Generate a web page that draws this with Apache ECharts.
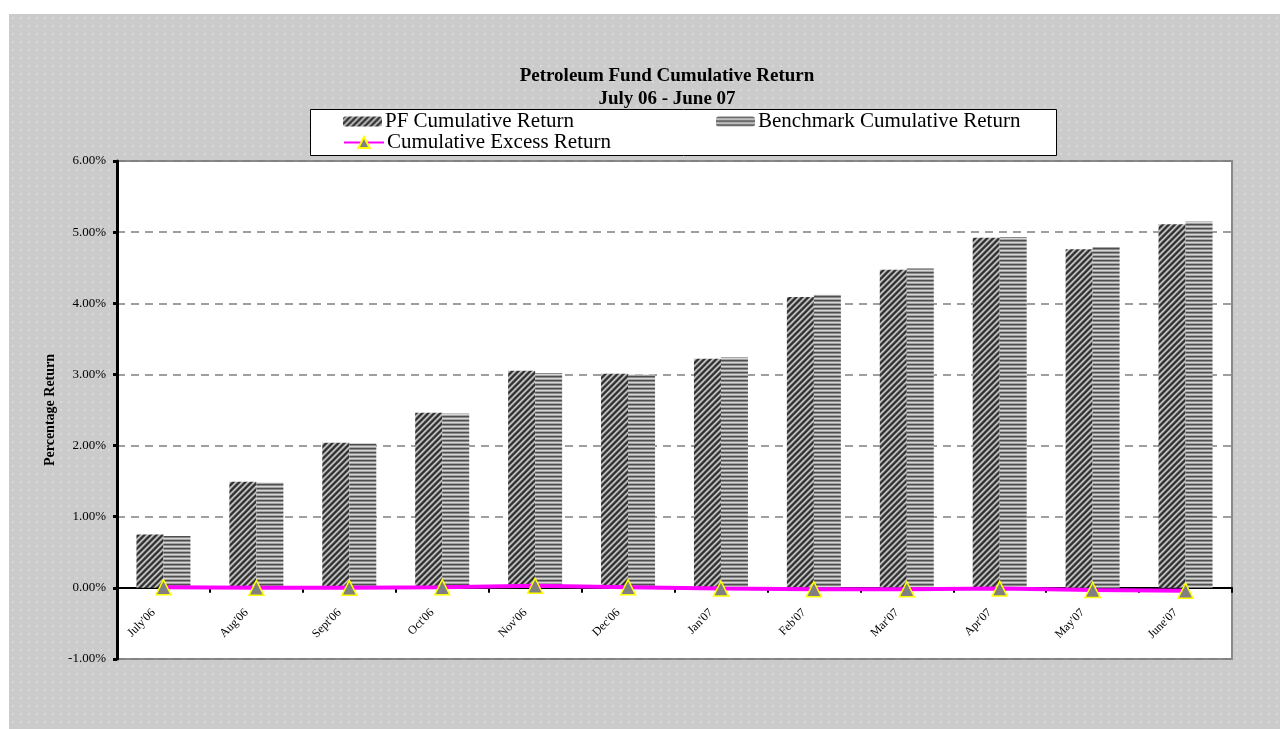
<!DOCTYPE html>
<html>
<head>
<meta charset="utf-8">
<script src="https://cdn.jsdelivr.net/npm/echarts@6/dist/echarts.min.js"></script>
<style>
html,body{margin:0;padding:0;background:#fff;}
#bg{position:absolute;left:9px;top:14px;width:1271px;height:715px;background-color:#cbcbcb;
background-image:radial-gradient(circle, rgba(255,255,255,0.25) 1px, transparent 1.5px);background-size:8px 8px;}
#chart{position:absolute;left:0;top:0;width:1280px;height:729px;}
</style>
</head>
<body>
<div id="bg"></div>
<div id="chart"></div>
<script>
const categories = ["July'06","Aug'06","Sept'06","Oct'06","Nov'06","Dec'06","Jan'07","Feb'07","Mar'07","Apr'07","May'07","June'07"];
const pfReturn = [0.75, 1.49, 2.04, 2.46, 3.05, 3.01, 3.22, 4.09, 4.47, 4.92, 4.76, 5.11];
const benchReturn = [0.73, 1.48, 2.03, 2.45, 3.02, 3.00, 3.24, 4.12, 4.49, 4.93, 4.79, 5.15];
const excessReturn = [0.01, 0.00, 0.00, 0.01, 0.03, 0.01, -0.01, -0.02, -0.02, -0.01, -0.03, -0.04];
const yTicks = [-1, 0, 1, 2, 3, 4, 5, 6];

function makeDiag(){
  const n = 6;
  const c = document.createElement('canvas'); c.width = n; c.height = n;
  const ctx = c.getContext('2d');
  const cols = ['#2e2e2e', '#333333', '#6a6a6a', '#c4c4c4', '#b4b4b4', '#666666'];
  for (let x = 0; x < n; x++) for (let y = 0; y < n; y++) {
    ctx.fillStyle = cols[(x + y) % n];
    ctx.fillRect(x, y, 1, 1);
  }
  return c;
}
function makeHoriz(){
  const c = document.createElement('canvas'); c.width = 4; c.height = 4;
  const ctx = c.getContext('2d');
  const cols = ['#4e4e4e', '#8a8a8a', '#d6d6d6', '#a4a4a4'];
  for (let y = 0; y < 4; y++) { ctx.fillStyle = cols[y]; ctx.fillRect(0, y, 4, 1); }
  return c;
}
const serif = '"Liberation Serif", "DejaVu Serif", serif';
const chart = echarts.init(document.getElementById('chart'), null, {renderer: 'canvas'});
const pfColor = {image: makeDiag(), repeat: 'repeat'};
const bmColor = {image: makeHoriz(), repeat: 'repeat'};

chart.setOption({
  backgroundColor: 'transparent',
  animation: false,
  title: [
    {text: 'Petroleum Fund Cumulative Return', left: 662, top: 62, textAlign: 'center',
     textStyle: {fontFamily: serif, fontSize: 19, fontWeight: 'bold', color: '#000'}},
    {text: 'July 06 - June 07', left: 662, top: 85, textAlign: 'center',
     textStyle: {fontFamily: serif, fontSize: 19, fontWeight: 'bold', color: '#000'}}
  ],
  graphic: [{type: 'rect', left: 310, top: 109, z: 1,
    shape: {width: 746, height: 46}, style: {fill: '#fff', stroke: '#000', lineWidth: 1}}],
  legend: [
    {data: ['PF Cumulative Return', 'Benchmark Cumulative Return'], left: 343, top: 111,
     itemWidth: 39, itemHeight: 10, itemGap: 142, padding: 0, z: 5,
     textStyle: {fontFamily: serif, fontSize: 21, color: '#000', padding: [0,0,0,-2]}},
    {data: ['Cumulative Excess Return'], left: 343, top: 132,
     itemWidth: 40, itemHeight: 14, padding: 0, z: 5,
     textStyle: {fontFamily: serif, fontSize: 21, color: '#000', padding: [0,0,0,-2]}}
  ],
  grid: {left: 117, right: 48, top: 161, bottom: 70, show: true, backgroundColor: '#fff',
    borderColor: '#8a8a8a', borderWidth: 2, containLabel: false},
  xAxis: {
    type: 'category', data: categories,
    axisLine: {onZero: true, lineStyle: {color: '#000', width: 2}},
    axisTick: {show: true, length: 5, lineStyle: {color: '#000', width: 2}},
    axisLabel: {interval: 0, rotate: 45, margin: -58, padding: [0, 14, 0, 0],
      fontFamily: serif, fontSize: 12, color: '#000'}
  },
  yAxis: {
    type: 'value', min: -1, max: 6, interval: 1,
    name: 'Percentage Return', nameLocation: 'middle', nameGap: 55,
    nameTextStyle: {fontFamily: serif, fontSize: 14, fontWeight: 'bold', color: '#000'},
    axisLine: {show: true, lineStyle: {color: '#000', width: 3}},
    axisTick: {show: true, length: 4, lineStyle: {color: '#000', width: 3}},
    axisLabel: {fontFamily: serif, fontSize: 13, color: '#000', margin: 11,
      formatter: v => yTicks.includes(v) ? v.toFixed(2) + '%' : ''},
    splitLine: {show: true, lineStyle: {color: '#808080', width: 1.5, type: [8, 6]}}
  },
  series: [
    {name: 'PF Cumulative Return', type: 'bar', data: pfReturn, barWidth: 27, barGap: '0%',
     itemStyle: {color: pfColor}},
    {name: 'Benchmark Cumulative Return', type: 'bar', data: benchReturn, barWidth: 27, barGap: '0%',
     itemStyle: {color: bmColor}},
    {name: 'Cumulative Excess Return', type: 'line', data: excessReturn, z: 10,
     symbol: 'triangle', symbolSize: [15, 15],
     lineStyle: {color: '#ff00ff', width: 4},
     itemStyle: {color: '#808080', borderColor: '#ffff00', borderWidth: 1.5}}
  ]
});
</script>
</body>
</html>
